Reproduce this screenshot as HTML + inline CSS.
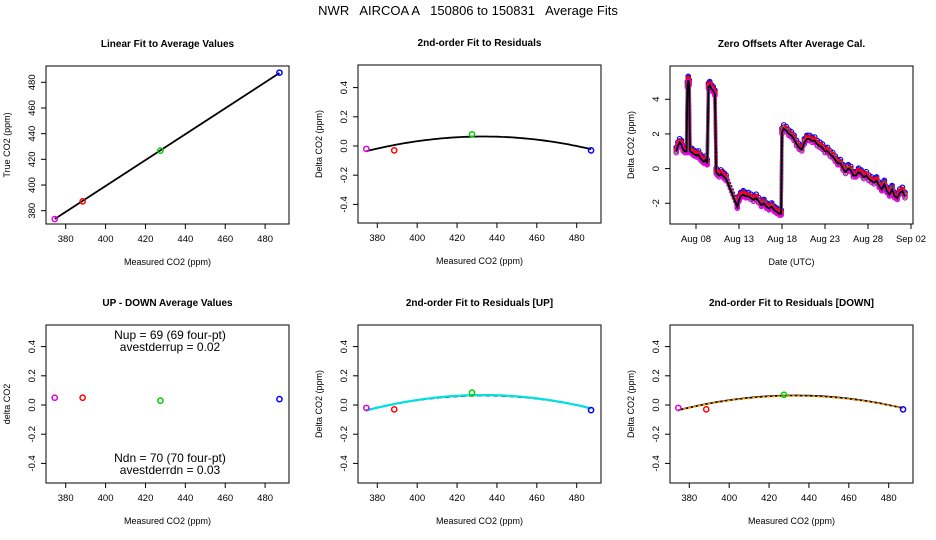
<!DOCTYPE html>
<html><head><meta charset="utf-8"><style>
html,body{margin:0;padding:0;background:#fff;}
svg{display:block;font-family:"Liberation Sans","DejaVu Sans",sans-serif;}
</style></head><body>
<svg id="c" width="936" height="540" viewBox="0 0 936 540">
<rect width="936" height="540" fill="#fff"/>
<text x="468" y="15" font-size="13" text-anchor="middle" xml:space="preserve">NWR   AIRCOA A   150806 to 150831   Average Fits</text>
</svg>
<script>
// ---- data ----
const measured = [374.5, 388.5, 427.5, 487.2];
const trueVals = [373.5, 387.3, 426.8, 487.5];
const ptColors = ["#e000e0", "#ff0000", "#00d000", "#0000ff"];
const residuals = [-0.02, -0.03, 0.08, -0.03];
const updown = [0.05, 0.05, 0.03, 0.04];
const residUp = [-0.02, -0.03, 0.085, -0.035];
const residDn = [-0.02, -0.03, 0.07, -0.03];
const linCoef = [0, 1.0];
const quadCoef = [0.065, 0, -0.0000295];
const quadUpCoef = [0.068, 0, -0.000031];
const quadDnCoef = [0.062, 0, -0.000029];
const xTicksCO2 = [380, 400, 420, 440, 460, 480];
const yTicksTrue = [380, 400, 420, 440, 460, 480];
const yTicksDelta = [-0.4, -0.2, 0.0, 0.2, 0.4];
const zDays = [5.7,5.9,6.1,6.3,6.5,6.7,6.9,7.0,7.1,7.2,7.3,7.5,7.7,7.9,8.1,8.3,8.5,8.7,8.9,9.1,9.3,9.45,9.6,9.8,10.0,10.2,10.35,10.5,10.7,10.9,11.1,11.3,11.5,12.8,13.0,13.2,13.5,13.8,14.1,14.4,14.7,15.0,15.3,15.6,15.9,16.2,16.5,16.8,17.1,17.4,17.7,17.9,18.0,18.2,18.5,18.8,19.1,19.4,19.7,20.0,20.3,20.6,20.9,21.2,21.5,21.8,22.1,22.4,22.7,23.0,23.3,23.6,23.9,24.2,24.5,24.8,25.1,25.4,25.7,26.0,26.3,26.6,26.9,27.2,27.5,27.8,28.1,28.4,28.7,29.0,29.3,29.6,29.9,30.2,30.5,30.8,31.1,31.4,31.7,32.0,32.3];
const zVals = [1.0,1.3,1.5,1.4,1.1,1.0,1.0,4.8,5.1,4.9,1.0,0.95,0.85,0.8,0.75,0.8,0.6,0.5,0.4,0.5,0.3,4.7,4.8,4.6,4.5,4.3,-0.2,-0.3,-0.4,-0.3,-0.4,-0.5,-0.6,-2.2,-1.8,-1.6,-1.5,-1.6,-1.6,-1.7,-1.8,-1.7,-1.9,-2.1,-2.0,-2.2,-2.3,-2.2,-2.4,-2.5,-2.6,-2.6,2.1,2.3,2.2,2.0,1.9,1.7,1.4,1.2,1.1,1.5,1.7,1.7,1.6,1.6,1.4,1.3,1.2,1.0,1.0,0.8,0.7,0.5,0.3,0.3,0.0,-0.2,0.0,-0.1,-0.4,-0.4,-0.2,-0.3,-0.5,-0.4,-0.6,-0.7,-0.8,-0.7,-1.0,-1.2,-0.9,-1.3,-1.5,-1.2,-1.6,-1.7,-1.4,-1.3,-1.6];
const zSeriesOffsets = [0.22, 0.0, 0.1, -0.08];
const zSeriesColors = ["#0000ff", "#00d000", "#ff0000", "#e000e0"];
const zTickDays = [8, 13, 18, 23, 28, 33];
const zTickLabels = ["Aug 08", "Aug 13", "Aug 18", "Aug 23", "Aug 28", "Sep 02"];
const zYTicks = [-2, 0, 2, 4];

// ---- drawing ----
const svg = document.getElementById('c');
const NS = 'http://www.w3.org/2000/svg';
function mk(tag, attrs, parent) {
  const e = document.createElementNS(NS, tag);
  for (const k in attrs) e.setAttribute(k, attrs[k]);
  (parent || svg).appendChild(e);
  return e;
}
function txt(x, y, s, size, anchor, extra, parent) {
  const t = mk('text', Object.assign({x: x, y: y, 'font-size': size, 'text-anchor': anchor || 'middle'}, extra || {}), parent);
  t.textContent = s;
  return t;
}
function panel(o) {
  const g = mk('g', {});
  
  
  const sx = v => o.x0 + (v - o.xmin) * o.xs;
  const sy = v => o.y0 - (v - o.ymin) * o.ys;
  const t = txt((o.L + o.R) / 2, o.T - 19, o.title, 10, 'middle', {'font-weight': 'bold'}, g);
  
  
  const box = mk('rect', {x: o.L, y: o.T, width: o.R - o.L, height: o.B - o.T, fill: 'none', stroke: '#000', 'stroke-width': 1}, g);
  
  
  const xa = mk('g', {}, g);
  
  
  const xt = o.xticks, xl = o.xlabels || o.xticks.map(String);
  mk('line', {x1: sx(xt[0]), x2: sx(xt[xt.length - 1]), y1: o.B, y2: o.B, stroke: '#000'}, xa);
  xt.forEach((v, i) => {
    mk('line', {x1: sx(v), x2: sx(v), y1: o.B, y2: o.B + 5, stroke: '#000'}, xa);
    txt(sx(v), o.B + 18, xl[i], 9.5, 'middle', {}, xa);
  });
  const ya = mk('g', {}, g);
  
  
  const yt = o.yticks;
  mk('line', {x1: o.L, x2: o.L, y1: sy(yt[0]), y2: sy(yt[yt.length - 1]), stroke: '#000'}, ya);
  yt.forEach(v => {
    mk('line', {x1: o.L, x2: o.L - 5, y1: sy(v), y2: sy(v), stroke: '#000'}, ya);
    const lx = o.L - 11, ly = sy(v);
    txt(lx, ly, (o.yfmt ? o.yfmt(v) : String(v)), 9.5, 'middle', {transform: `rotate(-90 ${lx} ${ly})`}, ya);
  });
  const xt2 = txt((o.L + o.R) / 2, o.B + 41, o.xtitle, 9, 'middle', {}, g);
  
  
  const yx = o.L - 36, yy = (o.T + o.B) / 2;
  const yt2 = txt(yx, yy, o.ytitle, 9, 'middle', {transform: `rotate(-90 ${yx} ${yy})`}, g);
  
  
  return {g, sx, sy};
}
function pts(p, xs, ys, cols) {
  xs.forEach((x, i) => {
    const c = mk('circle', {cx: p.sx(x), cy: p.sy(ys[i]), r: 2.6, fill: 'none', stroke: cols[i], 'stroke-width': 1.5}, p.g);
    
    
  });
}
function quadPath(p, coef, x0, xa, xb) {
  let d = '';
  for (let k = 0; k <= 60; k++) {
    const x = xa + (xb - xa) * k / 60, dx = x - x0;
    const y = coef[0] + coef[1] * dx + coef[2] * dx * dx;
    d += (k ? 'L' : 'M') + p.sx(x).toFixed(1) + ',' + p.sy(y).toFixed(1);
  }
  return d;
}
const fmt1 = v => v.toFixed(1);
const co2x = {xmin: 380, xs: 1.994, xticks: xTicksCO2, xtitle: 'Measured CO2 (ppm)'};
const xmn = Math.min(...measured), xmx = Math.max(...measured);

// Panel 1
const p1 = panel(Object.assign({}, co2x, {name: 'linear-fit-panel', L: 46, R: 289, T: 66, B: 224, x0: 65.7, ymin: 380, y0: 210.7, ys: 1.284, yticks: yTicksTrue, title: 'Linear Fit to Average Values', ytitle: 'True CO2 (ppm)'}));
const l1 = mk('line', {x1: p1.sx(xmn), y1: p1.sy(linCoef[0] + linCoef[1] * xmn - 1), x2: p1.sx(xmx), y2: p1.sy(linCoef[0] + linCoef[1] * xmx), stroke: '#000', 'stroke-width': 1.8}, p1.g);


pts(p1, measured, trueVals, ptColors);

// Panel 2
const p2 = panel(Object.assign({}, co2x, {name: 'residual-fit-panel', L: 358, R: 601, T: 65, B: 223, x0: 377.3, ymin: 0, y0: 146, ys: 146, yticks: yTicksDelta, yfmt: fmt1, title: '2nd-order Fit to Residuals', ytitle: 'Delta CO2 (ppm)'}));
const c2 = mk('path', {d: quadPath(p2, quadCoef, 433, xmn, xmx), fill: 'none', stroke: '#000', 'stroke-width': 1.8}, p2.g);


pts(p2, measured, residuals, ptColors);

// Panel 3
const p3 = panel({name: 'zero-offsets-panel', L: 670, R: 913, T: 66, B: 224, xmin: 28, x0: 868, xs: 8.6, xticks: zTickDays, xlabels: zTickLabels, ymin: 0, y0: 168.6, ys: 17.33, yticks: zYTicks, title: 'Zero Offsets After Average Cal.', xtitle: 'Date (UTC)', ytitle: 'Delta CO2 (ppm)'});
zSeriesOffsets.forEach((off, s) => {
  const sg = mk('g', {}, p3.g);
  
  
  let d = '';
  zDays.forEach((dd, i) => { d += (i ? 'L' : 'M') + p3.sx(dd).toFixed(1) + ',' + p3.sy(zVals[i] + off).toFixed(1); });
  mk('path', {d: d, fill: 'none', stroke: zSeriesColors[s], 'stroke-width': 3.5, 'stroke-linejoin': 'round', 'stroke-dasharray': '2,1.5'}, sg);
  zDays.forEach((dd, i) => {
    mk('circle', {cx: p3.sx(dd), cy: p3.sy(zVals[i] + off), r: 2.3, fill: 'none', stroke: zSeriesColors[s], 'stroke-width': 1.1}, sg);
  });
});
{
  let d = '';
  zDays.forEach((dd, i) => { d += (i ? 'L' : 'M') + p3.sx(dd).toFixed(1) + ',' + p3.sy(zVals[i]).toFixed(1); });
  const bl = mk('path', {d: d, fill: 'none', stroke: '#000', 'stroke-width': 1.8}, p3.g);
  
  
}

// Panel 4
const p4 = panel(Object.assign({}, co2x, {name: 'up-down-panel', L: 46, R: 289, T: 325, B: 483, x0: 65.7, ymin: 0, y0: 405, ys: 146, yticks: yTicksDelta, yfmt: fmt1, title: 'UP - DOWN Average Values', ytitle: 'delta CO2'}));
pts(p4, measured, updown, ptColors);
[['Nup = 69 (69 four-pt)', 339], ['avestderrup =  0.02', 351], ['Ndn = 70 (70 four-pt)', 462], ['avestderrdn =  0.03', 474]].forEach(a => {
  const t = txt(170, a[1], a[0], 12, 'middle', {'xml:space': 'preserve'}, p4.g);
  
  
});

// Panel 5
const p5 = panel(Object.assign({}, co2x, {name: 'residual-fit-up-panel', L: 358, R: 601, T: 325, B: 483, x0: 377.3, ymin: 0, y0: 405, ys: 146, yticks: yTicksDelta, yfmt: fmt1, title: '2nd-order Fit to Residuals [UP]', ytitle: 'Delta CO2 (ppm)'}));
const c5a = mk('path', {d: quadPath(p5, quadCoef, 433, xmn, xmx), fill: 'none', stroke: '#000', 'stroke-width': 1.8, 'stroke-dasharray': '5,3'}, p5.g);


const c5 = mk('path', {d: quadPath(p5, quadUpCoef, 433, xmn, xmx), fill: 'none', stroke: '#00e0e0', 'stroke-width': 2.2}, p5.g);


pts(p5, measured, residUp, ptColors);

// Panel 6
const p6 = panel(Object.assign({}, co2x, {name: 'residual-fit-down-panel', L: 670, R: 913, T: 325, B: 483, x0: 689.3, ymin: 0, y0: 405, ys: 146, yticks: yTicksDelta, yfmt: fmt1, title: '2nd-order Fit to Residuals [DOWN]', ytitle: 'Delta CO2 (ppm)'}));
const c6a = mk('path', {d: quadPath(p6, quadCoef, 433, xmn, xmx), fill: 'none', stroke: '#000', 'stroke-width': 1.8}, p6.g);


const c6 = mk('path', {d: quadPath(p6, quadDnCoef, 433, xmn, xmx), fill: 'none', stroke: '#ff9900', 'stroke-width': 1.6, 'stroke-dasharray': '3,2'}, p6.g);


pts(p6, measured, residDn, ptColors);
</script>
</body></html>
